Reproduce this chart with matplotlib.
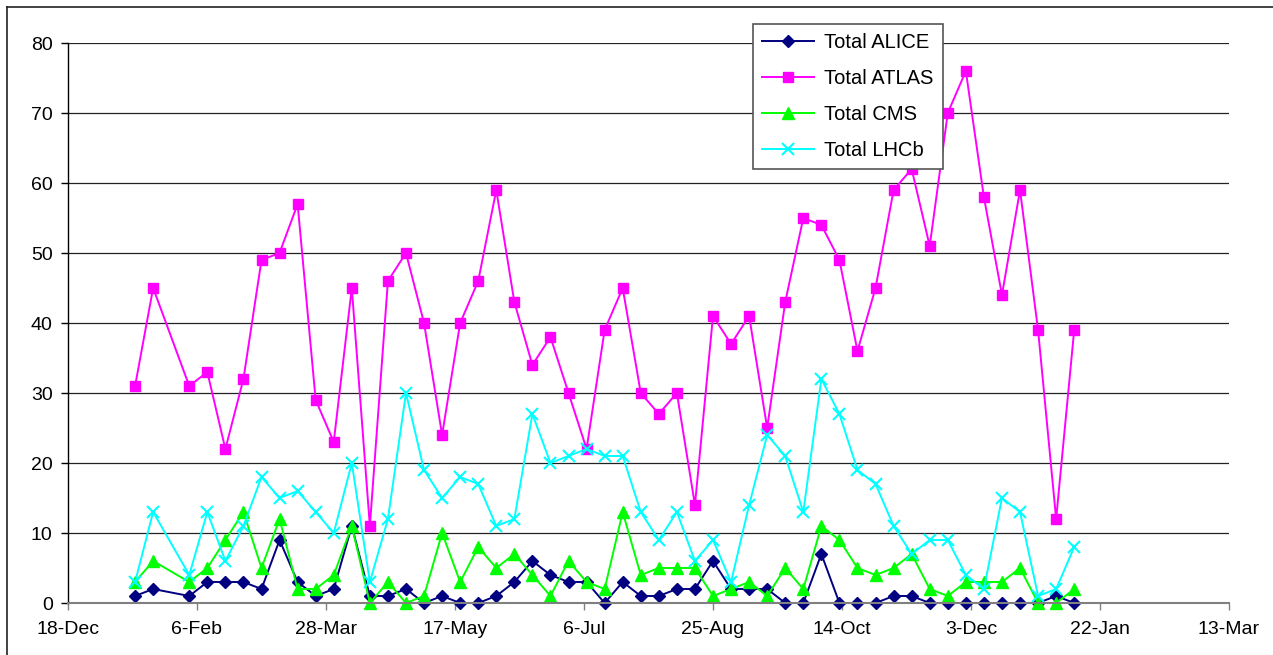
import matplotlib
matplotlib.use("Agg")
import matplotlib.pyplot as plt
from matplotlib.lines import Line2D
import datetime as dt

plt.rcParams['font.family'] = ['Liberation Sans', 'DejaVu Sans']

dates = ["2006-01-13", "2006-01-20", "2006-02-03", "2006-02-10", "2006-02-17", "2006-02-24",
         "2006-03-03", "2006-03-10", "2006-03-17", "2006-03-24", "2006-03-31", "2006-04-07",
         "2006-04-14", "2006-04-21", "2006-04-28", "2006-05-05", "2006-05-12", "2006-05-19",
         "2006-05-26", "2006-06-02", "2006-06-09", "2006-06-16", "2006-06-23", "2006-06-30",
         "2006-07-07", "2006-07-14", "2006-07-21", "2006-07-28", "2006-08-04", "2006-08-11",
         "2006-08-18", "2006-08-25", "2006-09-01", "2006-09-08", "2006-09-15", "2006-09-22",
         "2006-09-29", "2006-10-06", "2006-10-13", "2006-10-20", "2006-10-27", "2006-11-03",
         "2006-11-10", "2006-11-17", "2006-11-24", "2006-12-01", "2006-12-08", "2006-12-15",
         "2006-12-22", "2006-12-29", "2007-01-05", "2007-01-12"]

alice = [1, 2, 1, 3, 3, 3, 2, 9, 3, 1, 2, 11, 1, 1, 2, 0, 1, 0, 0, 1, 3, 6, 4, 3, 3, 0,
         3, 1, 1, 2, 2, 6, 2, 2, 2, 0, 0, 7, 0, 0, 0, 1, 1, 0, 0, 0, 0, 0, 0, 0, 1, 0]
atlas = [31, 45, 31, 33, 22, 32, 49, 50, 57, 29, 23, 45, 11, 46, 50, 40, 24, 40, 46, 59,
         43, 34, 38, 30, 22, 39, 45, 30, 27, 30, 14, 41, 37, 41, 25, 43, 55, 54, 49, 36,
         45, 59, 62, 51, 70, 76, 58, 44, 59, 39, 12, 39]
cms = [3, 6, 3, 5, 9, 13, 5, 12, 2, 2, 4, 11, 0, 3, 0, 1, 10, 3, 8, 5, 7, 4, 1, 6, 3, 2,
       13, 4, 5, 5, 5, 1, 2, 3, 1, 5, 2, 11, 9, 5, 4, 5, 7, 2, 1, 3, 3, 3, 5, 0, 0, 2]
lhcb = [3, 13, 4, 13, 6, 11, 18, 15, 16, 13, 10, 20, 3, 12, 30, 19, 15, 18, 17, 11, 12,
        27, 20, 21, 22, 21, 21, 13, 9, 13, 6, 9, 3, 14, 24, 21, 13, 32, 27, 19, 17, 11,
        7, 9, 9, 4, 2, 15, 13, 1, 2, 8]

series_names = ["Total ALICE", "Total ATLAS", "Total CMS", "Total LHCb"]
tick_dates = ["2005-12-18", "2006-02-06", "2006-03-28", "2006-05-17", "2006-07-06",
              "2006-08-25", "2006-10-14", "2006-12-03", "2007-01-22", "2007-03-13"]
y_ticks = [0, 10, 20, 30, 40, 50, 60, 70, 80]

x = [dt.datetime.strptime(d, "%Y-%m-%d") for d in dates]
xt = [dt.datetime.strptime(d, "%Y-%m-%d") for d in tick_dates]

W, H = 1273, 655
fig = plt.figure(figsize=(W / 100, H / 100), dpi=100)
ax = fig.add_axes([68 / W, 1 - 603 / H, (1229 - 68) / W, (603 - 43) / H])

styles = [
    dict(color="#000080", marker="D", markersize=6.5),
    dict(color="#FF00FF", marker="s", markersize=7),
    dict(color="#00FF00", marker="^", markersize=8),
    dict(color="#00FFFF", marker="x", markersize=8, markeredgewidth=1.5),
]
for vals, name, st in zip([alice, atlas, cms, lhcb], series_names, styles):
    ax.plot(x, vals, label=name, linewidth=1.4, clip_on=False,
            markeredgecolor=st["color"], **st)

ax.set_xlim(xt[0], xt[-1])
ax.set_ylim(0, 80)
ax.set_xticks(xt)
ax.set_xticklabels([f"{d.day}-{d.strftime('%b')}" for d in xt])
ax.set_yticks(y_ticks)
ax.set_yticklabels([str(v) for v in y_ticks])
ax.tick_params(axis="x", labelsize=14, length=5, width=1, color="#808080", pad=8)
ax.tick_params(axis="y", labelsize=14, length=5, width=1, color="#000000", pad=6)
ax.yaxis.grid(True, color="#222222", linewidth=0.9)
ax.set_axisbelow(True)
for s in ["top", "right"]:
    ax.spines[s].set_visible(False)
ax.spines["bottom"].set_color("#808080")
ax.spines["bottom"].set_linewidth(1.5)
ax.spines["left"].set_color("#000000")
ax.spines["left"].set_linewidth(1)

leg = ax.legend(loc="upper left", bbox_to_anchor=(753 / W, 1 - 24 / H),
                bbox_transform=fig.transFigure, borderaxespad=0, fontsize=14.5,
                frameon=True, fancybox=False, edgecolor="#555555", framealpha=1,
                handlelength=2.6, labelspacing=0.85, borderpad=0.45, handletextpad=0.5)
leg.get_frame().set_linewidth(1.2)

# outer chart border (top & left)
fig.add_artist(Line2D([7 / W, 1.0], [1 - 7 / H, 1 - 7 / H], transform=fig.transFigure,
                      color="#222222", linewidth=1.2))
fig.add_artist(Line2D([7 / W, 7 / W], [0, 1 - 7 / H], transform=fig.transFigure,
                      color="#222222", linewidth=1.2))

fig.savefig("out.png", dpi=100)
